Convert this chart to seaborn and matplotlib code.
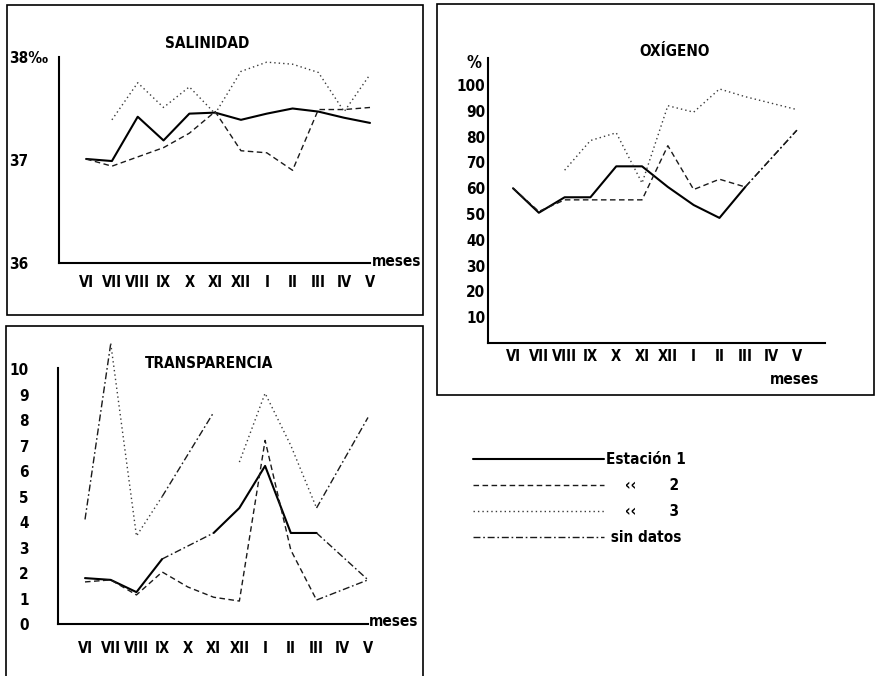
import numpy as np
import pandas as pd
import matplotlib
matplotlib.use("Agg")
import matplotlib.pyplot as plt
import seaborn as sns
from matplotlib import font_manager as fm
from matplotlib.lines import Line2D
from matplotlib.patches import Rectangle

nan = np.nan

# ---------------- data ----------------
months = ["VI", "VII", "VIII", "IX", "X", "XI", "XII", "I", "II", "III", "IV", "V"]

sal_e1 = [37.01, 36.99, 37.42, 37.19, 37.45, 37.46, 37.39, 37.45, 37.50, 37.47, 37.41, 37.36]
sal_e2 = [37.01, 36.94, 37.03, 37.12, 37.26, 37.47, 37.09, 37.07, 36.90, 37.49, 37.49, 37.51]
sal_e3 = [nan, 37.39, 37.75, 37.51, 37.71, 37.45, 37.86, 37.95, 37.93, 37.85, 37.47, 37.83]
sal_yticks = [36, 37, 38]
sal_yticklabels = ["36", "37", "38‰"]

ox_e1 = [60, 50.5, 56.5, 56.5, 68.5, 68.5, 60.5, 53.5, 48.5, 60.5, nan, 82.5]
ox_e2 = [60, 51, 55.5, 55.5, 55.5, 55.5, 76.5, 59.5, 63.5, 60.5, nan, 82.5]
ox_e3 = [nan, nan, 67, 78.5, 81.5, 62, 92, 89.5, 98.5, 95.5, 93, 90.5]
ox_yticks = [10, 20, 30, 40, 50, 60, 70, 80, 90, 100]

tr_e1 = [1.8, 1.73, 1.25, 2.55, nan, 3.57, 4.55, 6.2, 3.57, 3.57, nan, 1.73]
tr_e2 = [1.65, 1.73, 1.14, 2.04, 1.45, 1.05, 0.9, 7.2, 2.9, 0.94, nan, 1.73]
tr_e3 = [4.1, 11.0, 3.45, 5.0, nan, 8.3, 6.35, 9.05, 7.0, 4.55, nan, 8.1]
tr_yticks = [0, 1, 2, 3, 4, 5, 6, 7, 8, 9, 10]

legend_labels = ["Estación 1", "    ‹‹       2", "    ‹‹       3", " sin datos"]

# segment drawing codes (segment i joins month i and i+1):
# n = station line, s = "sin datos" line, - = not drawn
sal_seg = ["n" * 11, "n" * 11, "-" + "n" * 10]
ox_seg = ["n" * 9 + "ss", "n" * 9 + "ss", "--" + "n" * 9]
tr_seg = ["nnnssnnnnss", "n" * 9 + "ss", "snnss-nnnss"]

# ---------------- style ----------------
sns.set_style("white")
names = {f.name for f in fm.fontManager.ttflist}
if "DejaVu Sans Condensed" in names:
    FAM = "DejaVu Sans Condensed"
elif "Liberation Sans Narrow" in names:
    FAM = "Liberation Sans Narrow"
else:
    FAM = "DejaVu Sans"
plt.rcParams["font.family"] = [FAM, "DejaVu Sans"]
plt.rcParams["font.weight"] = "bold"
plt.rcParams["font.stretch"] = "condensed"
plt.rcParams["text.color"] = "black"
plt.rcParams["xtick.color"] = "black"
plt.rcParams["ytick.color"] = "black"
plt.rcParams["axes.labelcolor"] = "black"

DASHES = {"e1": "", "e2": (4, 2.5), "e3": (1, 2.2), "sd": (5, 2, 1.2, 2)}
SIZES = {"e1": 1.5, "e2": 1.0, "e3": 1.0, "sd": 1.0}
COLORS = {"e1": "#000000", "e2": "#1a1a1a", "e3": "#3a3a3a", "sd": "#1a1a1a"}
FS = 11
XFS = 10.5

W, H = 876, 676
fig = plt.figure(figsize=(W / 100, H / 100), dpi=100)


def px_axes(x0, y0, x1, y1):
    return fig.add_axes([x0 / W, 1 - y1 / H, (x1 - x0) / W, (y1 - y0) / H])


def ftext(x, y, s, **kw):
    kw.setdefault("fontsize", FS)
    kw.setdefault("fontweight", "bold")
    kw.setdefault("color", "black")
    fig.text(x / W, 1 - y / H, s, **kw)


def frame(x0, y0, x1, y1):
    fig.add_artist(Rectangle((x0 / W, 1 - y1 / H), (x1 - x0) / W, (y1 - y0) / H,
                             transform=fig.transFigure, fill=False,
                             lw=1.2, ec="black"))


def panel(ax, series, segs):
    rows = []
    seg = 0
    for st, (vals, codes) in enumerate(zip(series, segs), start=1):
        cur = None
        for i, code in enumerate(codes):
            if code == "-":
                cur = None
                continue
            kind = f"e{st}" if code == "n" else "sd"
            if cur != kind:
                seg += 1
                cur = kind
                rows.append(dict(x=i, y=vals[i], seg=seg, kind=kind))
            rows.append(dict(x=i + 1, y=vals[i + 1], seg=seg, kind=kind))
    df = pd.DataFrame(rows)
    sns.lineplot(data=df, x="x", y="y", units="seg", estimator=None,
                 hue="kind", palette=COLORS, style="kind", dashes=DASHES,
                 size="kind", sizes=SIZES, legend=False, sort=False, ax=ax)
    for ln in ax.lines:
        ln.set_clip_on(False)
    ax.set_xlabel("")
    ax.set_ylabel("")
    ax.set_xticks(range(len(months)))
    ax.set_xticklabels(months, fontsize=XFS, fontweight="bold")
    for side in ["top", "right"]:
        ax.spines[side].set_visible(False)
    for side in ["left", "bottom"]:
        ax.spines[side].set_linewidth(1.5)
        ax.spines[side].set_color("black")
    ax.set_facecolor("none")


# ---------------- SALINIDAD ----------------
ax1 = px_axes(59, 57, 370, 263)
panel(ax1, [sal_e1, sal_e2, sal_e3], sal_seg)
ax1.set_xlim(-1.05, 11)
ax1.set_ylim(36, 38)
ax1.set_yticks(sal_yticks)
ax1.set_yticklabels(sal_yticklabels, fontsize=FS, fontweight="bold")
for lbl in ax1.get_yticklabels():
    lbl.set_horizontalalignment("left")
ax1.tick_params(axis="y", length=0, pad=36)
ax1.tick_params(axis="x", length=0, pad=9)
ftext(207, 43, "SALINIDAD", ha="center", va="center")
ftext(372, 262, "meses", ha="left", va="center")
frame(7, 5, 423, 315)

# ---------------- OXIGENO ----------------
ax2 = px_axes(488, 58, 825, 343)
panel(ax2, [ox_e1, ox_e2, ox_e3], ox_seg)
ax2.set_xlim(-0.97, 12.09)
ax2.set_ylim(0, 110.5)
ax2.set_yticks(ox_yticks)
ax2.set_yticklabels([str(v) for v in ox_yticks], fontsize=FS, fontweight="bold")
ax2.tick_params(axis="y", length=0, pad=2)
ax2.tick_params(axis="x", length=0, pad=4)
ftext(675, 52, "OXÍGENO", ha="center", va="center")
ftext(474, 63, "%", ha="center", va="center", fontsize=FS + 1)
ftext(795, 379, "meses", ha="center", va="center")
frame(437, 4, 874, 395)

# ---------------- TRANSPARENCIA ----------------
ax3 = px_axes(58, 368, 368, 624)
panel(ax3, [tr_e1, tr_e2, tr_e3], tr_seg)
ax3.set_xlim(-1.05, 11)
ax3.set_ylim(0, 10.04)
ax3.set_yticks(tr_yticks)
ax3.set_yticklabels([str(v) for v in tr_yticks], fontsize=FS, fontweight="bold")
ax3.tick_params(axis="y", length=0, pad=21)
ax3.tick_params(axis="x", length=0, pad=12)
ftext(209, 363, "TRANSPARENCIA", ha="center", va="center")
ftext(369, 622, "meses", ha="left", va="center")
frame(6, 326, 423, 700)

# ---------------- legend ----------------
handles = [Line2D([], [], color=COLORS[k], lw=SIZES[k],
                  dashes=(DASHES[k] if DASHES[k] else (None, None)))
           for k in ["e1", "e2", "e3", "sd"]]
handles[0].set_linestyle("-")
leg = fig.legend(handles, legend_labels, loc="upper left",
                 bbox_to_anchor=(473 / W, 1 - 452 / H), frameon=False,
                 handlelength=8.6, handletextpad=0.1, labelspacing=0.72,
                 borderpad=0, borderaxespad=0,
                 prop={"family": [FAM, "DejaVu Sans"], "weight": "bold",
                       "size": FS, "stretch": "condensed"})
for t in leg.get_texts():
    t.set_color("black")

fig.savefig("out.png", dpi=100, facecolor="white")
